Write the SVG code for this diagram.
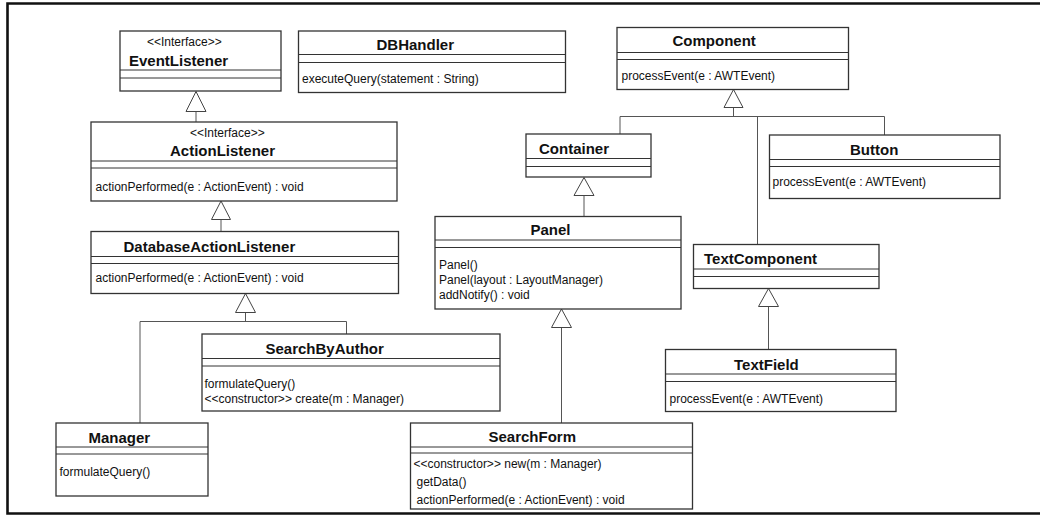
<svg xmlns="http://www.w3.org/2000/svg" width="1040" height="525" viewBox="0 0 1040 525">
  <style>
    .box { fill: #ffffff; stroke: #333333; stroke-width: 1.3; }
    .sep { stroke: #333333; stroke-width: 1; }
    .title { font-family: "Liberation Sans", Arial, sans-serif; font-weight: bold; font-size: 15px; fill: #111111; }
    .stereo { font-family: "Liberation Sans", Arial, sans-serif; font-size: 12px; fill: #111111; }
    .op { font-family: "Liberation Sans", Arial, sans-serif; font-size: 12px; fill: #111111; }
    .link { fill: none; stroke: #555555; stroke-width: 1; }
    .head { fill: #ffffff; stroke: #444444; stroke-width: 1; }
  </style>

  <rect x="0" y="0" width="1040" height="525" fill="#ffffff"/>
  <!-- outer frame, open on the right -->
  <path d="M1045,3.5 H7.5 V513.5 H1045" fill="none" stroke="#111111" stroke-width="2.6"/>

  <!-- generalization connectors -->
  <g id="connectors">
    <!-- ActionListener -> EventListener -->
    <path class="link" d="M196,122 V111.5"/>
    <polygon class="head" points="196,91.5 186,111.5 206,111.5"/>
    <!-- DatabaseActionListener -> ActionListener -->
    <path class="link" d="M221,231.5 V219.5"/>
    <polygon class="head" points="221,201 211.5,219.5 230.5,219.5"/>
    <!-- Manager, SearchByAuthor -> DatabaseActionListener -->
    <path class="link" d="M140,423 V321.5 H346.5 V334 M245.5,321.5 V312.5"/>
    <polygon class="head" points="245.5,293.5 235.5,312.5 255.5,312.5"/>
    <!-- Container, TextComponent, Button -> Component -->
    <path class="link" d="M620,134 V116.5 H884.5 V135 M757.5,116.5 V244.5 M733.5,116.5 V107.5"/>
    <polygon class="head" points="733.5,89.5 724,107.5 743,107.5"/>
    <!-- Panel -> Container -->
    <path class="link" d="M584,216.5 V195.5"/>
    <polygon class="head" points="584,177.5 574,195.5 594,195.5"/>
    <!-- SearchForm -> Panel -->
    <path class="link" d="M561.5,423 V327.5"/>
    <polygon class="head" points="561.5,309 551.5,327.5 571.5,327.5"/>
    <!-- TextField -> TextComponent -->
    <path class="link" d="M768.5,349.5 V306.5"/>
    <polygon class="head" points="768.5,288.5 758.5,306.5 778.5,306.5"/>
  </g>

  <g id="EventListener">
    <rect class="box" x="120" y="31" width="161" height="60"/>
    <line class="sep" x1="120" y1="70" x2="281" y2="70"/>
    <line class="sep" x1="120" y1="78" x2="281" y2="78"/>
    <text class="stereo" x="147" y="46">&lt;&lt;Interface&gt;&gt;</text>
    <text class="title" x="129" y="66">EventListener</text>
  </g>

  <g id="DBHandler">
    <rect class="box" x="298.5" y="31" width="267" height="61.5"/>
    <line class="sep" x1="298.5" y1="54.5" x2="565.5" y2="54.5"/>
    <line class="sep" x1="298.5" y1="62.5" x2="565.5" y2="62.5"/>
    <text class="title" x="376.5" y="50">DBHandler</text>
    <text class="op" x="302" y="83">executeQuery(statement : String)</text>
  </g>

  <g id="Component">
    <rect class="box" x="617" y="27.5" width="231.5" height="62"/>
    <line class="sep" x1="617" y1="52.5" x2="848.5" y2="52.5"/>
    <line class="sep" x1="617" y1="59.5" x2="848.5" y2="59.5"/>
    <text class="title" x="672.5" y="45.5">Component</text>
    <text class="op" x="621.5" y="80">processEvent(e : AWTEvent)</text>
  </g>

  <g id="ActionListener">
    <rect class="box" x="91" y="122" width="306" height="79"/>
    <line class="sep" x1="91" y1="161" x2="397" y2="161"/>
    <line class="sep" x1="91" y1="168" x2="397" y2="168"/>
    <text class="stereo" x="190" y="137">&lt;&lt;Interface&gt;&gt;</text>
    <text class="title" x="170" y="156">ActionListener</text>
    <text class="op" x="95.5" y="191">actionPerformed(e : ActionEvent) : void</text>
  </g>

  <g id="Container">
    <rect class="box" x="526" y="134" width="125" height="43"/>
    <line class="sep" x1="526" y1="158.5" x2="651" y2="158.5"/>
    <line class="sep" x1="526" y1="166.5" x2="651" y2="166.5"/>
    <text class="title" x="539" y="153.5">Container</text>
  </g>

  <g id="Button">
    <rect class="box" x="769.5" y="135" width="230.5" height="63.5"/>
    <line class="sep" x1="769.5" y1="159.5" x2="1000" y2="159.5"/>
    <line class="sep" x1="769.5" y1="166.5" x2="1000" y2="166.5"/>
    <text class="title" x="850" y="155">Button</text>
    <text class="op" x="772.5" y="185.5">processEvent(e : AWTEvent)</text>
  </g>

  <g id="DatabaseActionListener">
    <rect class="box" x="91" y="231.5" width="307.5" height="62"/>
    <line class="sep" x1="91" y1="256.5" x2="398.5" y2="256.5"/>
    <line class="sep" x1="91" y1="263.5" x2="398.5" y2="263.5"/>
    <text class="title" x="123.5" y="251.5">DatabaseActionListener</text>
    <text class="op" x="95.5" y="281.5">actionPerformed(e : ActionEvent) : void</text>
  </g>

  <g id="Panel">
    <rect class="box" x="435" y="216.5" width="246" height="92.5"/>
    <line class="sep" x1="435" y1="240" x2="681" y2="240"/>
    <line class="sep" x1="435" y1="247.5" x2="681" y2="247.5"/>
    <text class="title" x="530.5" y="235">Panel</text>
    <text class="op" x="439" y="268.5">Panel()</text>
    <text class="op" x="439" y="283.5">Panel(layout : LayoutManager)</text>
    <text class="op" x="439" y="298.5">addNotify() : void</text>
  </g>

  <g id="TextComponent">
    <rect class="box" x="693.5" y="244.5" width="185.5" height="44"/>
    <line class="sep" x1="693.5" y1="269" x2="879" y2="269"/>
    <line class="sep" x1="693.5" y1="276.5" x2="879" y2="276.5"/>
    <text class="title" x="704" y="263.5">TextComponent</text>
  </g>

  <g id="SearchByAuthor">
    <rect class="box" x="202" y="334" width="298" height="77"/>
    <line class="sep" x1="202" y1="358.5" x2="500" y2="358.5"/>
    <line class="sep" x1="202" y1="366" x2="500" y2="366"/>
    <text class="title" x="265.5" y="354">SearchByAuthor</text>
    <text class="op" x="204.5" y="387.5">formulateQuery()</text>
    <text class="op" x="204.5" y="402.5">&lt;&lt;constructor&gt;&gt; create(m : Manager)</text>
  </g>

  <g id="TextField">
    <rect class="box" x="665.5" y="349.5" width="230.5" height="62"/>
    <line class="sep" x1="665.5" y1="374" x2="896" y2="374"/>
    <line class="sep" x1="665.5" y1="381.5" x2="896" y2="381.5"/>
    <text class="title" x="734" y="369.5">TextField</text>
    <text class="op" x="669.5" y="402.5">processEvent(e : AWTEvent)</text>
  </g>

  <g id="Manager">
    <rect class="box" x="56" y="423" width="152" height="73"/>
    <line class="sep" x1="56" y1="447" x2="208" y2="447"/>
    <line class="sep" x1="56" y1="454" x2="208" y2="454"/>
    <text class="title" x="88.5" y="442.5">Manager</text>
    <text class="op" x="59.5" y="476">formulateQuery()</text>
  </g>

  <g id="SearchForm">
    <rect class="box" x="410.5" y="423" width="282" height="86"/>
    <line class="sep" x1="410.5" y1="447" x2="692.5" y2="447"/>
    <line class="sep" x1="410.5" y1="453" x2="692.5" y2="453"/>
    <text class="title" x="488.5" y="442">SearchForm</text>
    <text class="op" x="413.5" y="468">&lt;&lt;constructor&gt;&gt; new(m : Manager)</text>
    <text class="op" x="416.5" y="486">getData()</text>
    <text class="op" x="416.5" y="504">actionPerformed(e : ActionEvent) : void</text>
  </g>
</svg>
